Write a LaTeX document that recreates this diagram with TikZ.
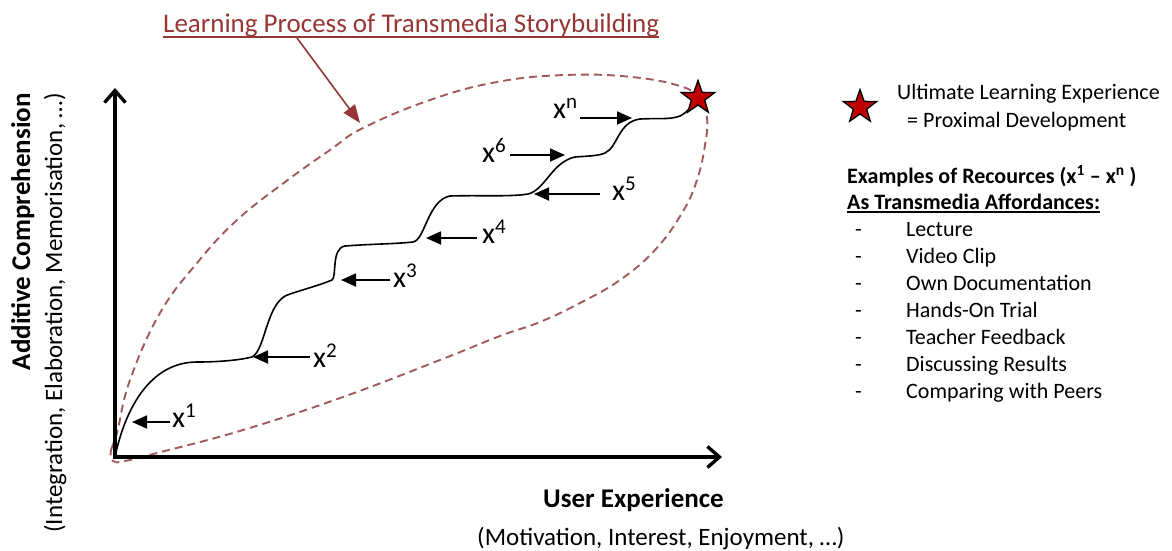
\documentclass[tikz,border=0pt]{standalone}
\usepackage{fontspec}
\setmainfont{Carlito}
\usetikzlibrary{arrows.meta,shapes.geometric,calc}
\definecolor{titlered}{HTML}{953735}
\definecolor{dashred}{HTML}{A05A5C}
\definecolor{starred}{HTML}{C00000}
\begin{document}
\begin{tikzpicture}[x=1pt,y=1pt,
  axisline/.style={line width=3.4pt, line join=miter},
  stepcurve/.style={line width=1.6pt},
  ptr/.style={line width=1.8pt, -{Triangle[length=15pt,width=13pt]}},
  xlab/.style={inner sep=0pt, anchor=base west, font=\fontsize{30}{36}\selectfont},
  legtext/.style={inner sep=0pt, anchor=base west, font=\fontsize{22}{26}\selectfont},
  legbold/.style={inner sep=0pt, anchor=base west, font=\fontsize{22}{26}\selectfont\bfseries},
  starmark/.style={star, star points=5, star point ratio=2.5, minimum size=35pt, inner sep=0pt, fill=starred, draw=black, line width=1.3pt},
  boundary/.style={dashred, line width=1.9pt, dash pattern=on 8pt off 5pt},
]
\useasboundingbox (0,-550) rectangle (1172,0);

% title and pointer
\node[font=\fontsize{27}{32}\selectfont, text=titlered, inner sep=0pt, anchor=base west] (title) at (163,-32) {Learning Process of Transmedia Storybuilding};
\draw[titlered, line width=1.4pt] ($(title.base west)+(0,-5)$) -- ($(title.base east)+(0,-5)$);
\coordinate (ptrtip) at (360,-123);
\draw[titlered, line width=1.6pt, -{Triangle[length=18pt,width=14pt]}] ($(title.base west)+(134,-6)$) -- (ptrtip);

% dashed boundary
\draw[boundary] plot[smooth cycle, tension=0.7] coordinates {
 (113,-461) (111,-450) (117,-433) (130,-380) (160,-313) (197,-263) (237,-220)
 (285,-182) (330,-150) (363,-128) (430,-100) (497,-82) (565,-75) (632,-77)
 (683,-87) (700,-100) (707,-118) (705,-145) (697,-180) (682,-213) (655,-250)
 (620,-280) (580,-303) (540,-322) (500,-336) (440,-360) (343,-397) (243,-430)
 (157,-453) (125,-461)};

% axes
\coordinate (O) at (115,-457);
\coordinate (Ytop) at (115,-88);
\coordinate (Xend) at (722,-457);
\draw[axisline, {Straight Barb[length=12pt,width=21pt]}-{Straight Barb[length=12pt,width=21pt]}] (Ytop) -- (O) -- (Xend);

% step curve
\coordinate (starpt) at (698,-98);
\draw[stepcurve] (O) .. controls (125,-409) and (150,-362) .. (197,-362)
 .. controls (220,-362) and (240,-360) .. (252,-357)
 .. controls (266,-350) and (266,-300) .. (290,-294)
 .. controls (305,-289) and (320,-285) .. (332,-280)
 .. controls (337,-277) and (331,-248) .. (345,-246)
 .. controls (370,-244) and (395,-244) .. (413,-242)
 .. controls (425,-240) and (428,-200) .. (450,-196)
 .. controls (480,-195) and (510,-197) .. (528,-194)
 .. controls (545,-190) and (552,-162) .. (575,-157)
 .. controls (588,-156) and (598,-156) .. (605,-153)
 .. controls (618,-147) and (618,-122) .. (640,-119)
 .. controls (655,-118) and (670,-120) .. (680,-116)
 .. controls (688,-112) and (692,-105) .. (starpt);
\node[starmark] (ultstar) at (starpt) {};

% resource pointers
\coordinate (t1) at (132,-422);
\coordinate (t2) at (253,-357);
\coordinate (t3) at (341,-280);
\coordinate (t4) at (426,-238);
\coordinate (t5) at (534,-194);
\coordinate (t6) at (565,-155);
\coordinate (tn) at (632,-118);
\node[xlab] (l1) at (172,-427) {x\textsuperscript{1}};
\node[xlab] (l2) at (313,-367) {x\textsuperscript{2}};
\node[xlab] (l3) at (393,-287) {x\textsuperscript{3}};
\node[xlab] (l4) at (482,-243) {x\textsuperscript{4}};
\node[xlab] (l5) at (612,-200) {x\textsuperscript{5}};
\node[xlab] (l6) at (482,-162) {x\textsuperscript{6}};
\node[xlab] (ln) at (553,-118) {x\textsuperscript{n}};
\draw[ptr] ($(l1.west |- t1)+(-2,0)$) -- (t1);
\draw[ptr] ($(l2.west |- t2)+(-3,0)$) -- (t2);
\draw[ptr] ($(l3.west |- t3)+(-3,0)$) -- (t3);
\draw[ptr] ($(l4.west |- t4)+(-5,0)$) -- (t4);
\draw[ptr] ($(l5.west |- t5)+(-12,0)$) -- (t5);
\draw[ptr] ($(l6.east |- t6)+(3,0)$) -- (t6);
\draw[ptr] ($(ln.east |- tn)+(2,0)$) -- (tn);

% axis labels
\node[rotate=90, anchor=base east, inner sep=0pt, font=\fontsize{27}{32}\selectfont\bfseries] (ylab) at (30,-93) {Additive Comprehension};
\node[rotate=90, anchor=base east, inner sep=0pt, font=\fontsize{25}{30}\selectfont] (ysub) at (62,-93) {(Integration, Elaboration, Memorisation, …)};
\node[anchor=base west, inner sep=0pt, font=\fontsize{27}{32}\selectfont\bfseries] (xlab) at (543,-507) {User Experience};
\node[anchor=base west, inner sep=0pt, font=\fontsize{25}{30}\selectfont] (xsub) at (477,-545) {(Motivation, Interest, Enjoyment, …)};

% legend
\node[starmark] (legstar) at (860,-107) {};
\node[legtext] (ult) at (897,-99) {Ultimate Learning Experience};
\node[legtext] (prox) at (907,-127) {= Proximal Development};
\node[legbold] (ex) at (847,-183) {Examples of Recources (x\textsuperscript{1} – x\textsuperscript{n} )};
\node[legbold] (as) at (847,-209) {As Transmedia Affordances:};
\draw[line width=1.2pt] ($(as.base west)+(0,-3)$) -- ($(as.base east)+(0,-3)$);
\foreach \t [count=\i] in {Lecture, Video Clip, Own Documentation, Hands-On Trial, Teacher Feedback, Discussing Results, Comparing with Peers}{
  \node[legtext] (dash\i) at (855,{-236-27*(\i-1)}) {-};
  \node[legtext] (item\i) at (906,{-236-27*(\i-1)}) {\t};
}
\end{tikzpicture}
\end{document}
